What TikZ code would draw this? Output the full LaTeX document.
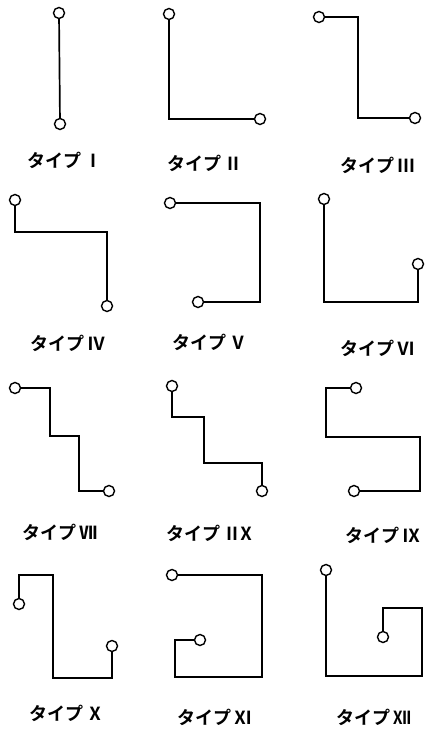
\documentclass[tikz,border=0pt]{standalone}
\usepackage{fontspec}
\usepackage{tikz}
\usetikzlibrary{positioning}
\newfontfamily\jpfont{Noto Sans CJK JP}[BoldFont={Noto Sans CJK JP Bold}]

\tikzset{
  term/.style={circle, draw, line width=1.4pt, inner sep=0pt, minimum size=11pt, fill=white},
  wire/.style={line width=1.7pt, line join=miter},
  typelabel/.style={font=\jpfont\bfseries\fontsize{18}{20}\selectfont}
}

\begin{document}
\begin{tikzpicture}[x=1pt, y=-1pt]
\useasboundingbox (0,0) rectangle (428,735);

% Type I
\node[term] (a1) at (59,13) {};
\node[term] (b1) at (60,124) {};
\draw[wire] (a1) -- (b1);

% Type II
\node[term] (a2) at (169,14) {};
\node[term] (b2) at (260,119) {};
\coordinate (c2) at (169,119);
\draw[wire] (a2) -- (c2) -- (b2);

% Type III
\node[term] (a3) at (319,17) {};
\node[term] (b3) at (415,118) {};
\coordinate (c3) at (358,17);
\coordinate (d3) at (358,118);
\draw[wire] (a3) -- (c3) -- (d3) -- (b3);

% Type IV
\node[term] (a4) at (15,200) {};
\node[term] (b4) at (107,306) {};
\coordinate (c4) at (15,232);
\coordinate (d4) at (107,232);
\draw[wire] (a4) -- (c4) -- (d4) -- (b4);

% Type V
\node[term] (a5) at (170,203) {};
\node[term] (b5) at (198,302) {};
\coordinate (c5) at (260,203);
\coordinate (d5) at (260,302);
\draw[wire] (a5) -- (c5) -- (d5) -- (b5);

% Type VI
\node[term] (a6) at (324,199) {};
\node[term] (b6) at (418,264) {};
\coordinate (c6) at (324,302);
\coordinate (d6) at (418,302);
\draw[wire] (a6) -- (c6) -- (d6) -- (b6);

% Type VII
\node[term] (a7) at (15,388) {};
\node[term] (b7) at (109,491) {};
\coordinate (c7) at (50,388);
\coordinate (d7) at (50,436);
\coordinate (e7) at (79,436);
\coordinate (f7) at (79,491);
\draw[wire] (a7) -- (c7) -- (d7) -- (e7) -- (f7) -- (b7);

% Type VIII
\node[term] (a8) at (172,386) {};
\node[term] (b8) at (262,491) {};
\coordinate (c8) at (172,417);
\coordinate (d8) at (204,417);
\coordinate (e8) at (204,463);
\coordinate (f8) at (262,463);
\draw[wire] (a8) -- (c8) -- (d8) -- (e8) -- (f8) -- (b8);

% Type IX
\node[term] (a9) at (356,388) {};
\node[term] (b9) at (354,491) {};
\coordinate (c9) at (326,388);
\coordinate (d9) at (326,437);
\coordinate (e9) at (420,437);
\coordinate (f9) at (420,491);
\draw[wire] (a9) -- (c9) -- (d9) -- (e9) -- (f9) -- (b9);

% Type X
\node[term] (a10) at (19,604) {};
\node[term] (b10) at (112,646) {};
\coordinate (c10) at (19,575);
\coordinate (d10) at (53,575);
\coordinate (e10) at (53,678);
\coordinate (f10) at (112,678);
\draw[wire] (a10) -- (c10) -- (d10) -- (e10) -- (f10) -- (b10);

% Type XI
\node[term] (a11) at (172,575) {};
\node[term] (b11) at (200,640) {};
\coordinate (c11) at (262,575);
\coordinate (d11) at (262,677);
\coordinate (e11) at (175,677);
\coordinate (f11) at (175,640);
\draw[wire] (a11) -- (c11) -- (d11) -- (e11) -- (f11) -- (b11);

% Type XII
\node[term] (a12) at (326,570) {};
\node[term] (b12) at (383,637) {};
\coordinate (c12) at (326,676);
\coordinate (d12) at (422,676);
\coordinate (e12) at (422,608);
\coordinate (f12) at (383,608);
\draw[wire] (a12) -- (c12) -- (d12) -- (e12) -- (f12) -- (b12);

% Labels under each type
\foreach \x/\y/\num/\n in {
  65/160/Ⅰ/1, 205/163/Ⅱ/2, 378/165/Ⅲ/3,
  68/343/Ⅳ/4, 210/342/Ⅴ/5, 378/348/Ⅵ/6,
  60/532/Ⅶ/7, 211/533/Ⅱ\kern-4ptⅩ/8, 383/535/Ⅸ/9,
  67/713/Ⅹ/10, 215/717/Ⅺ/11, 374/717/Ⅻ/12}
{
  \node[typelabel] (lab\n) at (\x,\y) {タイプ\,\num};
}
\end{tikzpicture}
\end{document}
